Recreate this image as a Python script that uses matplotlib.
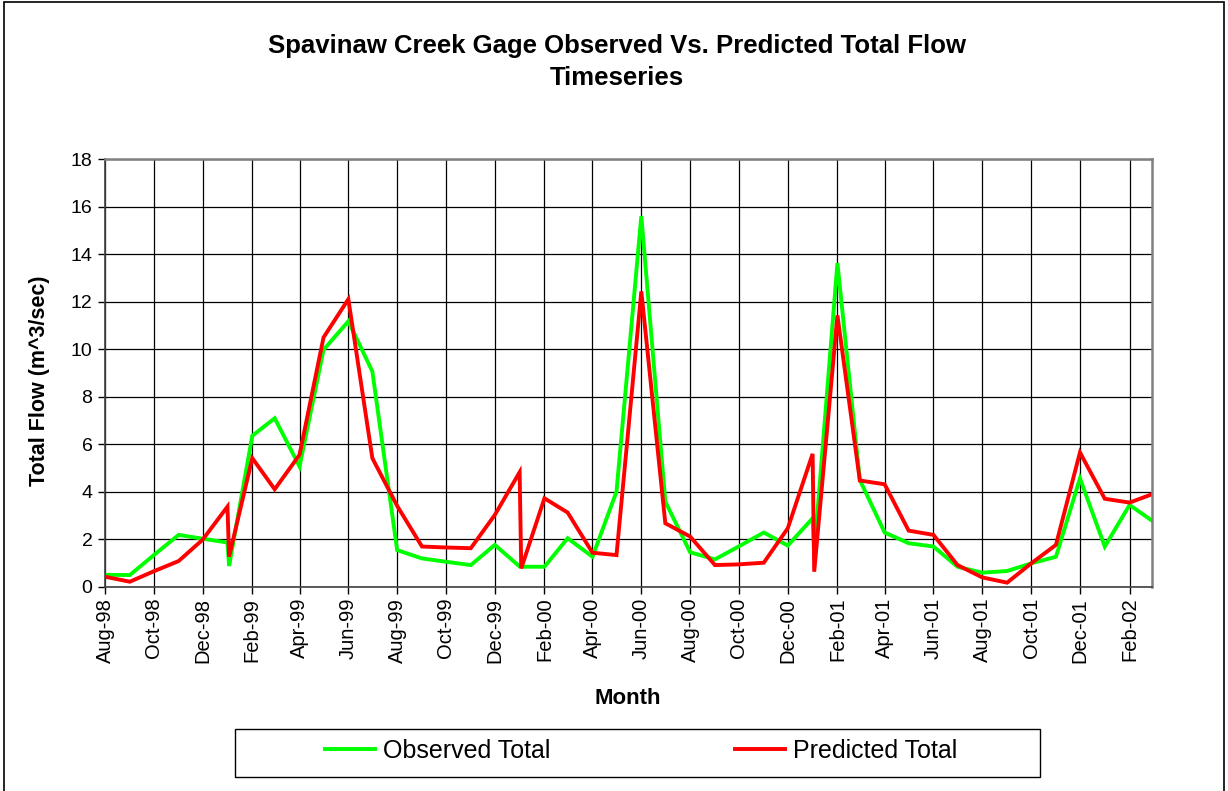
import matplotlib
matplotlib.use("Agg")
import matplotlib.pyplot as plt
import matplotlib.dates as mdates
from matplotlib.patches import Rectangle
import pandas as pd

# monthly samples (the January spikes carry two readings)
dates = ["1998-08-01", "1998-09-01", "1998-10-01", "1998-11-01", "1998-12-01",
         "1999-01-01", "1999-01-03", "1999-02-01", "1999-03-01", "1999-04-01",
         "1999-05-01", "1999-06-01", "1999-07-01", "1999-08-01", "1999-09-01",
         "1999-10-01", "1999-11-01", "1999-12-01", "2000-01-01", "2000-01-03",
         "2000-02-01", "2000-03-01", "2000-04-01", "2000-05-01", "2000-06-01",
         "2000-07-01", "2000-08-01", "2000-09-01", "2000-10-01", "2000-11-01",
         "2000-12-01", "2001-01-01", "2001-01-03", "2001-02-01", "2001-03-01",
         "2001-04-01", "2001-05-01", "2001-06-01", "2001-07-01", "2001-08-01",
         "2001-09-01", "2001-10-01", "2001-11-01", "2001-12-01", "2002-01-01",
         "2002-02-01", "2002-03-01"]

observed = [0.50, 0.49, 1.33, 2.18, 2.02,
            1.86, 0.87, 6.35, 7.09, 5.06,
            9.97, 11.17, 9.06, 1.54, 1.19,
            1.05, 0.91, 1.76, 0.85, 0.84,
            0.84, 2.04, 1.26, 4.00, 15.6,
            3.58, 1.45, 1.15, 1.70, 2.28,
            1.73, 2.88, 1.42, 13.62, 4.49,
            2.28, 1.83, 1.69, 0.84, 0.59,
            0.66, 0.98, 1.26, 4.56, 1.69,
            3.44, 2.78]

predicted = [0.42, 0.21, 0.65, 1.08, 1.98,
             3.37, 1.26, 5.41, 4.10, 5.55,
             10.49, 12.10, 5.41, 3.40, 1.69,
             1.65, 1.62, 3.02, 4.82, 0.77,
             3.72, 3.12, 1.43, 1.33, 12.43,
             2.67, 2.11, 0.91, 0.94, 1.01,
             2.46, 5.59, 0.63, 11.42, 4.47,
             4.31, 2.36, 2.18, 0.91, 0.39,
             0.17, 0.98, 1.76, 5.65, 3.70,
             3.54, 3.89]

x = pd.to_datetime(dates)

plt.rcParams['font.family'] = ['Liberation Sans', 'DejaVu Sans']

fig = plt.figure(figsize=(12.28, 7.91), dpi=100)
W, H = 1228.0, 791.0
ax = fig.add_axes([105 / W, 1 - 586.7 / H, (1152 - 105) / W, (586.7 - 159) / H])

ax.plot(x, observed, color='#00FF00', lw=2.8, label='Observed Total', solid_joinstyle='miter')
ax.plot(x, predicted, color='#FF0000', lw=2.8, label='Predicted Total', solid_joinstyle='miter')

ax.set_xlim(pd.Timestamp("1998-08-01"), pd.Timestamp("2002-03-01"))
ax.set_ylim(0, 18)
ax.set_yticks(range(0, 19, 2))
ax.xaxis.set_major_locator(mdates.MonthLocator(bymonth=[2, 4, 6, 8, 10, 12]))
ax.xaxis.set_major_formatter(mdates.DateFormatter('%b-%y'))
ax.grid(True, color='black', lw=0.9)
ax.set_axisbelow(True)

ax.tick_params(axis='x', labelsize=14.5, rotation=90, length=5, width=1, direction='out', pad=3)
ax.tick_params(axis='y', labelsize=14, length=5, width=1, direction='out', pad=4)

for side in ['top', 'right']:
    ax.spines[side].set_color('#808080')
    ax.spines[side].set_linewidth(1.8)
for side in ['left', 'bottom']:
    ax.spines[side].set_color('#404040')
    ax.spines[side].set_linewidth(1.2)

fig.text(617 / W, 1 - 62 / H, 'Spavinaw Creek Gage Observed Vs. Predicted Total Flow\nTimeseries',
         ha='center', va='center', fontsize=18.5, fontweight='bold', linespacing=1.4)
fig.text(40 / W, 1 - 381 / H, 'Total Flow (m^3/sec)', rotation=90, ha='center', va='center',
         fontsize=15.5, fontweight='bold')
fig.text(628 / W, 1 - 698 / H, 'Month', ha='center', va='center', fontsize=16, fontweight='bold')

# legend box like the original chart
fig.patches.append(Rectangle((235 / W, 1 - 777 / H), (1040 - 235) / W, (777 - 729) / H,
                             transform=fig.transFigure, fill=False, edgecolor='black', lw=1))
fig.legend(loc='center', bbox_to_anchor=(641 / W, 1 - 751 / H), ncol=2, frameon=False,
           fontsize=18, handlelength=2.0, handletextpad=0.3, columnspacing=7.4)

# outer chart border
fig.patches.append(Rectangle((4 / W, -0.01), (1224 - 4) / W, 1.0075,
                             transform=fig.transFigure, fill=False, edgecolor='black', lw=1.2))

fig.savefig('out.png', dpi=100)
